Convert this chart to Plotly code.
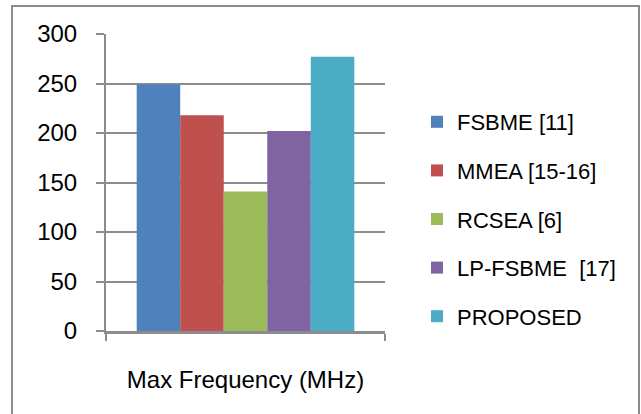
import plotly.graph_objects as go

categories = ["Max Frequency (MHz)"]
series_names = ["FSBME [11]", "MMEA [15-16]", "RCSEA [6]", "LP-FSBME  [17]", "PROPOSED"]
series_values = [[249], [218], [141], [202], [277]]
colors = ["#4F81BD", "#C0504D", "#9BBB59", "#8064A2", "#4BACC6"]
y_ticks = [0, 50, 100, 150, 200, 250, 300]

W, H = 641, 414
L, R, T, B = 106, 385, 34, 331
pw, ph = R - L, B - T

fig = go.Figure()
for i, (name, vals) in enumerate(zip(series_names, series_values)):
    fig.add_trace(go.Bar(x=categories, y=vals, name=name, marker_color=colors[i],
                         marker_line_width=0, legendgroup=name))

grid = "#8c8c8c"
fig.update_layout(
    width=W, height=H,
    margin=dict(l=L, r=W - R, t=T, b=H - B, pad=0),
    paper_bgcolor="white", plot_bgcolor="white",
    font=dict(family="Liberation Sans, Arial, sans-serif", size=22, color="black"),
    barmode="group", bargap=0.22, bargroupgap=0,
    showlegend=True,
    legend=dict(x=(417 - L) / pw, y=(331 - 101) / ph, xanchor="left", yanchor="top",
                traceorder="grouped", tracegroupgap=17, font=dict(size=22),
                bgcolor="rgba(0,0,0,0)", itemwidth=30),
    xaxis=dict(type="category", range=[-0.5, 0.5], showgrid=False, showline=True,
               linecolor=grid, linewidth=3, ticks="outside", tickson="boundaries",
               ticklen=7, tickwidth=2, tickcolor=grid, ticklabelstandoff=25,
               tickfont=dict(size=24)),
    yaxis=dict(range=[0, 300], tickvals=y_ticks, showgrid=True, gridcolor=grid, gridwidth=2,
               showline=True, linecolor=grid, linewidth=2, ticks="outside", ticklen=8,
               tickwidth=2, tickcolor=grid, ticklabelstandoff=14, zeroline=False,
               tickfont=dict(size=24)),
    shapes=[dict(type="rect", xref="paper", yref="paper",
                 x0=(12 - L) / pw, x1=(639 - L) / pw,
                 y0=(B - 6) / ph, y1=(B - 430) / ph,
                 line=dict(color=grid, width=2), fillcolor="rgba(0,0,0,0)", layer="below")],
)

fig.write_html("out.html", config={"displayModeBar": False},
               post_script="document.body.style.margin='0';document.body.style.overflow='hidden';")
